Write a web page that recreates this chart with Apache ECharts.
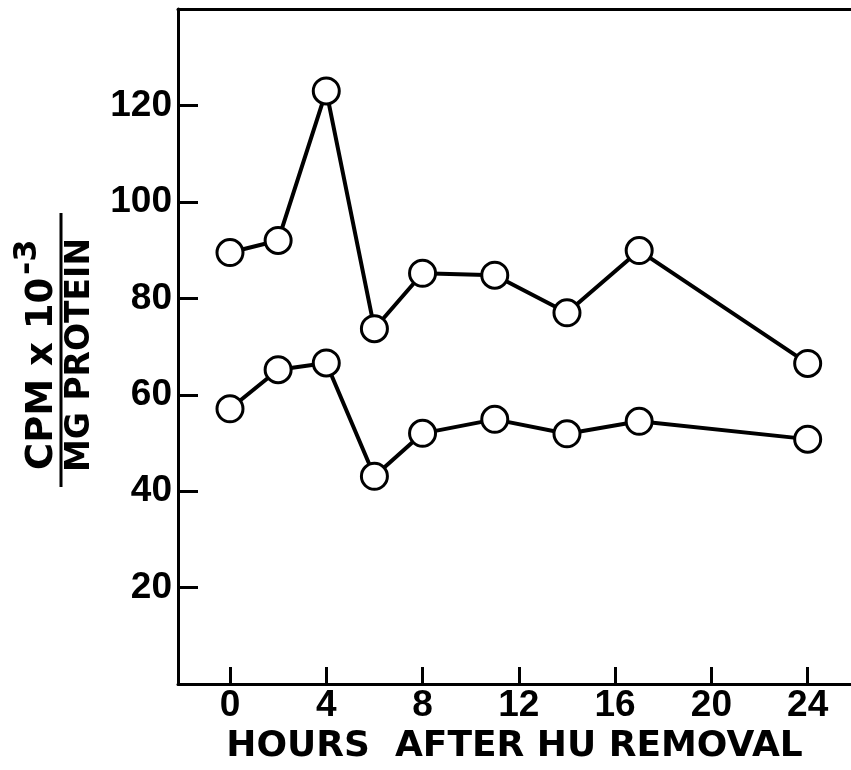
<!DOCTYPE html>
<html>
<head>
<meta charset="utf-8">
<script src="https://cdn.jsdelivr.net/npm/echarts@6/dist/echarts.min.js"></script>
<style>
html,body{margin:0;padding:0;background:#fff;}
#chart{width:851px;height:770px;}
</style>
</head>
<body>
<div id="chart"></div>
<script>
const hours = [0, 2, 4, 6, 8, 11, 14, 17, 24];
const upperSeries = [89.5, 92, 123, 73.7, 85.2, 84.8, 77, 89.9, 66.5];
const lowerSeries = [57.1, 65.2, 66.6, 43.1, 52.0, 54.9, 51.9, 54.5, 50.8];
const xTicks = [0, 4, 8, 12, 16, 20, 24];
const yTicks = [20, 40, 60, 80, 100, 120];
const xTitle = 'HOURS  AFTER HU REMOVAL';
const yNumerator = 'CPM x 10';
const yExponent = '-3';
const yDenominator = 'MG PROTEIN';

const chart = echarts.init(document.getElementById('chart'), null, {renderer: 'canvas'});
const pair = arr => hours.map((h, i) => [h, arr[i]]);
const lineSeries = (name, arr) => ({
  name: name,
  type: 'line',
  data: pair(arr),
  symbol: 'circle',
  symbolSize: 26,
  showSymbol: true,
  lineStyle: {color: '#000', width: 4},
  itemStyle: {color: '#fff', borderColor: '#000', borderWidth: 3},
  emphasis: {disabled: true},
  z: 3
});

chart.setOption({
  animation: false,
  backgroundColor: '#fff',
  grid: {left: 178, top: 9, right: 0, bottom: 84, containLabel: false},
  xAxis: [{
    type: 'value',
    min: -2.16,
    max: 25.8,
    position: 'bottom',
    axisLine: {show: true, onZero: false, lineStyle: {color: '#000', width: 3}},
    axisTick: {show: true, inside: true, length: 17, customValues: xTicks, lineStyle: {color: '#000', width: 3}},
    axisLabel: {show: true, customValues: xTicks, margin: 3, color: '#000', fontFamily: 'Liberation Sans', fontWeight: 'bold', fontSize: 37},
    splitLine: {show: false},
    name: xTitle,
    nameLocation: 'middle',
    nameGap: 40,
    nameTextStyle: {color: '#000', fontFamily: 'DejaVu Sans', fontWeight: 'bold', fontSize: 36}
  }, {
    type: 'value',
    min: -2.16,
    max: 25.8,
    position: 'top',
    axisLine: {show: true, onZero: false, lineStyle: {color: '#000', width: 3}},
    axisTick: {show: false},
    axisLabel: {show: false},
    splitLine: {show: false}
  }],
  yAxis: {
    type: 'value',
    min: 0,
    max: 140,
    axisLine: {show: true, onZero: false, lineStyle: {color: '#000', width: 3}},
    axisTick: {show: true, inside: true, length: 20, customValues: yTicks, lineStyle: {color: '#000', width: 3}},
    axisLabel: {show: true, customValues: yTicks, margin: 6, color: '#000', fontFamily: 'Liberation Sans', fontWeight: 'bold', fontSize: 37},
    splitLine: {show: false}
  },
  series: [lineSeries('upper', upperSeries), lineSeries('lower', lowerSeries)],
  graphic: [{
    type: 'group',
    x: 61,
    y: 350,
    rotation: Math.PI / 2,
    children: [
      {type: 'line', shape: {x1: -137, y1: 0, x2: 137, y2: 0}, style: {stroke: '#000', lineWidth: 3}},
      {type: 'text', x: -120, y: -19, style: {text: yNumerator, fill: '#000', fontFamily: 'DejaVu Sans', fontWeight: 'bold', fontSize: 37, align: 'left', verticalAlign: 'middle'}},
      {type: 'text', x: 75, y: -33, style: {text: yExponent, fill: '#000', fontFamily: 'DejaVu Sans', fontWeight: 'bold', fontSize: 32, align: 'left', verticalAlign: 'middle'}},
      {type: 'text', x: -122, y: 19, style: {text: yDenominator, fill: '#000', fontFamily: 'DejaVu Sans', fontWeight: 'bold', fontSize: 33, align: 'left', verticalAlign: 'middle'}}
    ]
  }]
});
</script>
</body>
</html>
